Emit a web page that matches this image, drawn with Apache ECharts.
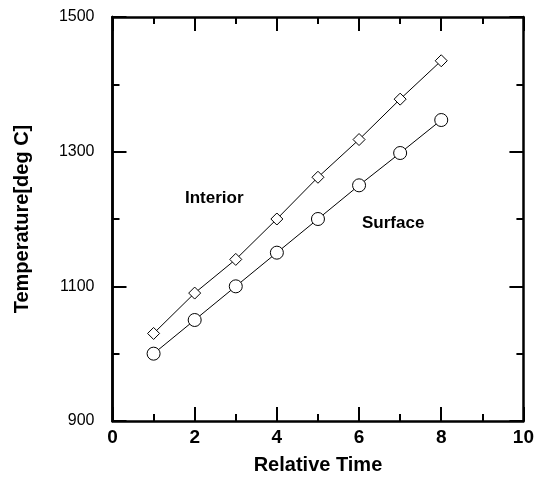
<!DOCTYPE html>
<html>
<head>
<meta charset="utf-8">
<script src="https://cdn.jsdelivr.net/npm/echarts@6/dist/echarts.min.js"></script>
<style>
html,body{margin:0;padding:0;background:#fff;}
#c{width:537px;height:483px;}
</style>
</head>
<body>
<div id="c"></div>
<script>
const time = [1, 2, 3, 4, 5, 6, 7, 8];
const interior = [1030, 1090, 1140, 1200, 1262, 1318, 1378, 1435];
const surface = [1000, 1050, 1100, 1150, 1200, 1250, 1298, 1347];
const yTickLabels = [900, 1100, 1300, 1500];
const seriesNames = ['Interior', 'Surface'];

const FONT = 'Liberation Sans, Arial, sans-serif';
const chart = echarts.init(document.getElementById('c'));

const tickAxisX = (pos, showLabel) => ({
  type: 'value', position: pos, min: 0, max: 10, interval: 2,
  axisLine: {show: true, onZero: false, lineStyle: {color: '#000', width: 2.5}},
  axisTick: {show: true, inside: true, length: 14, lineStyle: {color: '#000', width: 2}},
  minorTick: {show: true, splitNumber: 2, length: 7, lineStyle: {color: '#000', width: 2}},
  splitLine: {show: false}, minorSplitLine: {show: false},
  axisLabel: {show: showLabel, color: '#000', fontFamily: FONT, fontWeight: 'bold', fontSize: 19, margin: 7},
  name: showLabel ? 'Relative Time' : '',
  nameLocation: 'middle', nameGap: 34,
  nameTextStyle: {color: '#000', fontFamily: FONT, fontWeight: 'bold', fontSize: 20}
});

const tickAxisY = (pos) => ({
  type: 'value', position: pos, min: 0, max: 600, interval: 200,
  axisLine: {show: true, onZero: false, lineStyle: {color: '#000', width: 2.5}},
  axisTick: {show: true, inside: true, length: 14, lineStyle: {color: '#000', width: 2}},
  minorTick: {show: true, splitNumber: 2, length: 7, lineStyle: {color: '#000', width: 2}},
  splitLine: {show: false}, minorSplitLine: {show: false},
  axisLabel: {show: false}
});

chart.setOption({
  animation: false,
  backgroundColor: '#fff',
  grid: {left: 112.5, right: 9, top: 17, bottom: 62, containLabel: false},
  xAxis: [tickAxisX('bottom', true), tickAxisX('top', false)],
  yAxis: [
    {
      type: 'value', position: 'left', min: 900, max: 1500, interval: 100,
      axisLine: {show: true, onZero: false, lineStyle: {color: '#000', width: 2.5}},
      axisTick: {show: false},
      splitLine: {show: false},
      axisLabel: {
        color: '#000', fontFamily: FONT, fontSize: 16, margin: 18,
        formatter: v => yTickLabels.indexOf(v) >= 0 ? String(v) : ''
      },
      name: 'Temperature[deg C]', nameLocation: 'middle', nameGap: 80,
      nameTextStyle: {color: '#000', fontFamily: FONT, fontWeight: 'bold', fontSize: 20}
    },
    tickAxisY('left'),
    tickAxisY('right')
  ],
  series: [
    {
      name: seriesNames[0], type: 'line', xAxisIndex: 0, yAxisIndex: 0,
      data: time.map((t, i) => [t, interior[i]]),
      symbol: 'diamond', symbolSize: [12, 12],
      lineStyle: {color: '#000', width: 1},
      itemStyle: {color: '#fff', borderColor: '#000', borderWidth: 1}
    },
    {
      name: seriesNames[1], type: 'line', xAxisIndex: 0, yAxisIndex: 0,
      data: time.map((t, i) => [t, surface[i]]),
      symbol: 'circle', symbolSize: 13,
      lineStyle: {color: '#000', width: 1},
      itemStyle: {color: '#fff', borderColor: '#000', borderWidth: 1}
    }
  ],
  graphic: [
    {type: 'text', left: 185, top: 190, style: {text: seriesNames[0], fill: '#000', font: 'bold 17px ' + FONT}},
    {type: 'text', left: 362, top: 215, style: {text: seriesNames[1], fill: '#000', font: 'bold 17px ' + FONT}}
  ]
});
</script>
</body>
</html>
